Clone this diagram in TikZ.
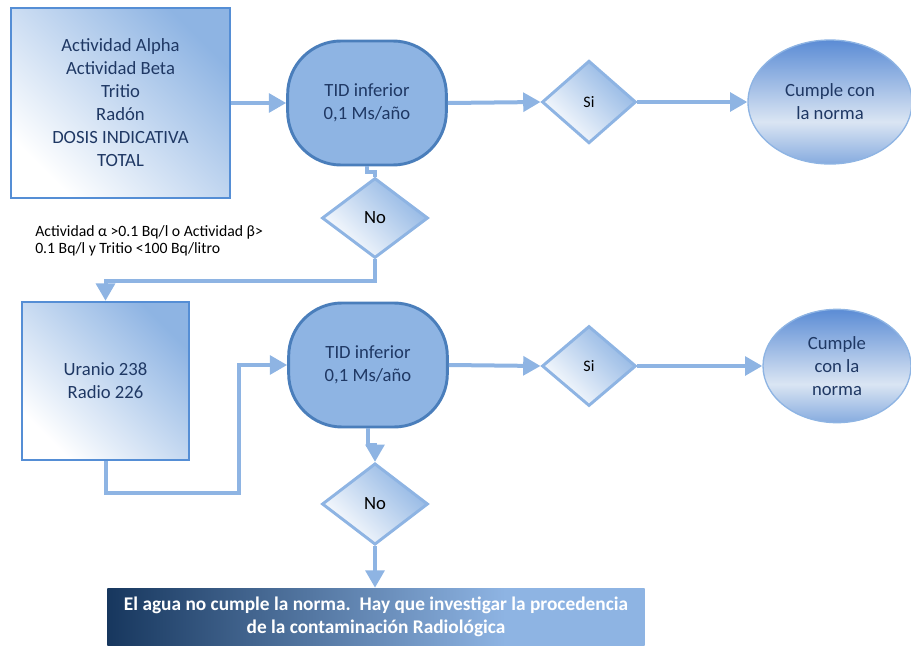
\documentclass[tikz,border=0pt]{standalone}
\usepackage{fontspec}
\setmainfont{Carlito}
\usetikzlibrary{arrows.meta}
\usetikzlibrary{shapes.geometric}
\definecolor{lineblue}{HTML}{8EB4E3}
\definecolor{edgeblue}{HTML}{558ED5}
\definecolor{tidedge}{HTML}{4A7EBB}
\definecolor{inknavy}{HTML}{1F3864}
\definecolor{deepnavy}{HTML}{17375E}
\definecolor{goaltop}{HTML}{5B8CD5}
\definecolor{goalmid}{HTML}{DAE5F3}
\definecolor{goalbot}{HTML}{86ABDF}
\pgfdeclarehorizontalshading{resultshade}{100bp}{color(0bp)=(deepnavy); color(25bp)=(deepnavy); color(62bp)=(lineblue); color(100bp)=(lineblue)}
\pgfdeclareverticalshading{goalshade}{100bp}{color(0bp)=(goalbot); color(25bp)=(goalbot); color(42bp)=(goalmid); color(75bp)=(goaltop); color(100bp)=(goaltop)}
\tikzset{
      inbox/.style={draw=edgeblue, line width=1.8pt, bottom color=white, top color=lineblue, shading angle=-45,
            text=inknavy, align=center, font=\fontsize{14}{17.25}\selectfont},
      tid/.style={draw=tidedge, line width=2.2pt, fill=lineblue, rounded corners=40pt, minimum width=119pt,
            minimum height=93pt, text=inknavy, align=center, font=\fontsize{14}{17.25}\selectfont},
      decision/.style={diamond, draw=lineblue, line width=2.2pt, bottom color=white, top color=lineblue, shading angle=-45,
            inner sep=0pt, text=black},
      goal/.style={ellipse, draw=lineblue, line width=1pt, shade, shading=goalshade, inner sep=0pt,
            text=inknavy, align=center, font=\fontsize{14}{17.25}\selectfont},
      result/.style={shade, shading=resultshade, minimum width=403pt, minimum height=43.5pt, text=white, align=center,
            font=\bfseries\fontsize{14.5}{17.25}\selectfont},
      flow/.style={draw=lineblue, line width=3pt, -{Triangle[length=13pt,width=14pt]}},
      link/.style={draw=lineblue, line width=3pt},
}

\begin{document}
\begin{tikzpicture}[x=0.75pt,y=-0.75pt]
        \useasboundingbox (0,0) rectangle (911,646);

        % First test
        \node[inbox, minimum width=164pt, minimum height=142.5pt] (inputs) at (120.5,103)
              {Actividad Alpha\\Actividad Beta\\Tritio\\Radón\\DOSIS INDICATIVA\\TOTAL};
        \node[tid] (tid1) at (367,103) {TID inferior\\0,1 Ms/año};
        \node[decision, minimum width=70.5pt, minimum height=62pt, font=\fontsize{12}{14}\selectfont] (si1) at (589,102) {Si};
        \node[goal, minimum width=123pt, minimum height=93pt] (goal1) at (830,102) {Cumple con\\la norma};
        \node[decision, minimum width=79.5pt, minimum height=60pt, font=\fontsize{14}{17}\selectfont] (no1) at (375,218) {No};
        \node[anchor=west, align=left, inner sep=0pt, font=\fontsize{11.8}{12.75}\selectfont] (limits) at (35,240.5)
              {Actividad α >0.1 Bq/l o Actividad β>\\0.1 Bq/l  y Tritio <100 Bq/litro};

        % Second test
        \node[inbox, minimum width=125pt, minimum height=118.5pt] (nuclides) at (105.5,381) {Uranio 238\\Radio 226};
        \node[tid] (tid2) at (368,365) {TID inferior\\0,1 Ms/año};
        \node[decision, minimum width=70.5pt, minimum height=60pt, font=\fontsize{12}{14}\selectfont] (si2) at (589,366) {Si};
        \node[goal, minimum width=111pt, minimum height=85pt] (goal2) at (837,366) {Cumple\\con la\\norma};
        \node[decision, minimum width=79.5pt, minimum height=61pt, font=\fontsize{14}{17}\selectfont] (no2) at (375,504) {No};
        \node[result] (verdict) at (376,617)
              {El agua no cumple la norma.\ \ Hay que investigar la procedencia\\de la contaminación Radiológica};
        \coordinate (bend) at (239,493);

        % Draw the connectors
        \draw[flow] (inputs.east |- tid1.west) -- (tid1.west);
        \draw[flow] (tid1.east) -- (si1.west);
        \draw[flow] (si1.east) -- (goal1.west);
        \draw[link] (tid1.south) -- ++(0,6) -| (no1.north);
        \draw[flow] (no1.south) -- ++(0,22) -| (nuclides.north);
        \draw[flow] (nuclides.south) |- (bend) |- (tid2.west);
        \draw[flow] (tid2.east) -- (si2.west);
        \draw[flow] (si2.east) -- (goal2.west);
        \draw[flow] (tid2.south) -- ++(0,17) -| (no2.north);
        \draw[flow] (no2.south) -- (no2.south |- verdict.north);

    \end{tikzpicture}
\end{document}
